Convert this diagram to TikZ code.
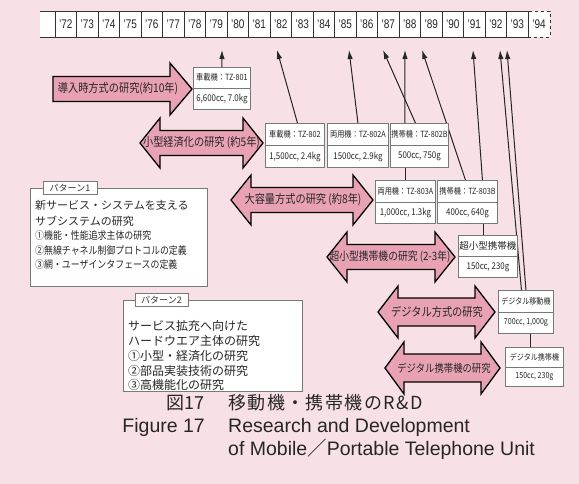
\documentclass[tikz,border=0pt]{standalone}
\usepackage{fontspec}
\usetikzlibrary{arrows.meta,calc}
\newfontfamily\jp{Noto Sans CJK JP}
\newfontfamily\jpc[FakeStretch=0.85]{Noto Sans CJK JP}
\newfontfamily\jpcap[LetterSpace=8]{Noto Sans CJK JP}
\newfontfamily\latc[FakeStretch=0.8]{Liberation Sans}
\newfontfamily\lat{Liberation Sans}
\definecolor{bgpink}{RGB}{247,224,230}
\definecolor{arrowpink}{RGB}{233,162,180}
\definecolor{boxgray}{RGB}{118,122,118}
\newcommand\mbx[7]{%
  \node[mbox,minimum width=#4,minimum height=#5,anchor=north west] (#1) at (#2,#3) {};
  \draw[mline] (#1.west) -- (#1.east);
  \node[mtxt,font=\jpc\fontsize{8.5}{9}\selectfont] (#1-t) at ($(#1.north)!.25!(#1.south)$) {#6};
  \node[mtxt] (#1-b) at ($(#1.north)!.75!(#1.south)$) {#7};}
\newcommand\dblarr[6]{%
  \filldraw[barrow] (#1,#3) -- ({#1+#4},{#3-#5}) -- ({#1+#4},{#3-#6}) -- ({#2-#4},{#3-#6})
   -- ({#2-#4},{#3-#5}) -- (#2,#3) -- ({#2-#4},{#3+#5}) -- ({#2-#4},{#3+#6})
   -- ({#1+#4},{#3+#6}) -- ({#1+#4},{#3+#5}) -- cycle;}
\newcommand\smallt{\fontsize{8.3}{9}\selectfont}
\begin{document}
\begin{tikzpicture}[x=1pt,y=-1pt,
  yrcell/.style={draw=black!80,line width=0.8pt,fill=white,minimum width=21.5,minimum height=26,inner sep=0pt,font=\latc\fontsize{12.5}{13}\selectfont,text=black!85},
  tline/.style={-{Latex[length=9pt,width=5.5pt]},line width=1pt,draw=black!85},
  cline/.style={line width=1pt,draw=black!85},
  mbox/.style={draw=boxgray,line width=0.9pt,fill=white,inner sep=0pt},
  mline/.style={draw=boxgray,line width=0.8pt},
  mtxt/.style={inner sep=0pt,font=\jpc\fontsize{9.3}{10}\selectfont,text=black!85},
  pbox/.style={draw=boxgray,line width=1pt,fill=white,inner sep=0pt},
  plabel/.style={draw=boxgray,line width=0.9pt,fill=white,inner sep=0pt,minimum height=13,font=\jp\fontsize{9}{10}\selectfont,text=black!80},
  ptxtA/.style={anchor=west,inner sep=0pt,font=\jp\fontsize{11}{12}\selectfont,text=black!85},
  ptxtB/.style={anchor=west,inner sep=0pt,font=\jpc\fontsize{10.5}{11}\selectfont,text=black!85},
  ptxtC/.style={anchor=west,inner sep=0pt,font=\jp\fontsize{12}{13}\selectfont,text=black!85},
  barrow/.style={fill=arrowpink,draw=black,line width=1.3pt,line join=miter},
  atxt/.style={inner sep=0pt,font=\jpc\fontsize{12}{13}\selectfont,text=black!85},
  capj/.style={inner sep=0pt,font=\jp\fontsize{18}{20}\selectfont,text=black!85},
  capjs/.style={inner sep=0pt,font=\jpcap\fontsize{18}{20}\selectfont,text=black!85},
  cape/.style={inner sep=0pt,font=\lat\fontsize{19.5}{21}\selectfont,text=black!85}
]
\useasboundingbox (0,0) rectangle (579,484);
\fill[bgpink] (0,0) rectangle (579,484);

% timeline
\fill[white] (40,11) rectangle (55,37);
\draw[black!80,line width=0.8pt] (55,11) -- (40,11) (40,37) -- (55,37);
\node[yrcell,dashed,minimum width=22] (y94) at (539,24) {’94};
\foreach \lab [count=\i from 0] in {72,...,93} {
  \node[yrcell] (y\lab) at ({65.75+21.5*\i},24) {’\lab};
}

% arrow tips under the timeline
\coordinate (t79) at (222,50);
\coordinate (t82) at (277,50);
\coordinate (t85) at (349,50);
\coordinate (t87) at (383,50);
\coordinate (t88) at (405,50);
\coordinate (t89) at (422,50);
\coordinate (t91) at (473,50);
\coordinate (t92) at (500,50);
\coordinate (t93) at (507,50);

% model boxes: first pass defines the node names
\mbx{B801}{193}{67}{57}{42}{車載機：TZ-801}{6,600cc, 7.0kg}
\mbx{B802}{265}{123}{59}{44}{車載機：TZ-802}{1,500cc, 2.4kg}
\mbx{B802A}{327}{123}{61}{44}{両用機：TZ-802A}{1500cc, 2.9kg}
\mbx{B802B}{390}{123}{58}{44}{携帯機：TZ-802B}{500cc, 750g}
\mbx{B803A}{375}{180}{60}{43}{両用機：TZ-803A}{1,000cc, 1.3kg}
\mbx{B803B}{437}{180}{60}{43}{携帯機：TZ-803B}{400cc, 640g}
\mbx{Bsm}{458}{235}{59}{42}{{\jp\fontsize{9.5}{10}\selectfont 超小型携帯機}}{150cc, 230g}
\mbx{Bdm}{498}{290}{55}{43}{{\smallt デジタル移動機}}{{\smallt 700cc, 1,000g}}
\mbx{Bdp}{505}{347}{58}{39}{{\smallt デジタル携帯機}}{{\smallt 150cc, 230g}}

% connectors
\draw[tline] (B801.north) -- (t79);
\draw[tline] ([xshift=2.5pt]B802.north) -- (t82);
\draw[tline] (B802A.north) -- (t85);
\draw[tline] ([xshift=-4pt]B802B.north) -- (t87);
\draw[tline] ([xshift=-14.5pt]B802B.north) -- (t88);
\draw[tline] ([xshift=-2pt]B803B.north) -- (t89);
\draw[tline] ([xshift=15pt]B803B.north) -- (t91);
\draw[tline] ([xshift=-4.5pt]Bdm.north) -- (t92);
\draw[tline] (Bdm.north) -- (t93);
\draw[cline] (B803A.north) -- (B803A.north |- B802B.south);
\draw[cline] ([xshift=-4.5pt]Bsm.north) -- ([xshift=-4.5pt]Bsm.north |- B803B.south);
\draw[cline] ([xshift=4.5pt]Bdm.south) -- ([xshift=4.5pt]Bdm.south |- Bdp.north);

% boxes drawn again over the lines
\mbx{B801}{193}{67}{57}{42}{車載機：TZ-801}{6,600cc, 7.0kg}
\mbx{B802}{265}{123}{59}{44}{車載機：TZ-802}{1,500cc, 2.4kg}
\mbx{B802A}{327}{123}{61}{44}{両用機：TZ-802A}{1500cc, 2.9kg}
\mbx{B802B}{390}{123}{58}{44}{携帯機：TZ-802B}{500cc, 750g}
\mbx{B803A}{375}{180}{60}{43}{両用機：TZ-803A}{1,000cc, 1.3kg}
\mbx{B803B}{437}{180}{60}{43}{携帯機：TZ-803B}{400cc, 640g}
\mbx{Bsm}{458}{235}{59}{42}{{\jp\fontsize{9.5}{10}\selectfont 超小型携帯機}}{150cc, 230g}
\mbx{Bdm}{498}{290}{55}{43}{{\smallt デジタル移動機}}{{\smallt 700cc, 1,000g}}
\mbx{Bdp}{505}{347}{58}{39}{{\smallt デジタル携帯機}}{{\smallt 150cc, 230g}}

% block arrows
\filldraw[barrow] (53,76.5) -- (170,76.5) -- (170,63) -- (192,89) -- (170,115) -- (170,101.5) -- (53,101.5) -- cycle;
\node[atxt] (A1) at (118,89) {導入時方式の研究(約10年)};
\dblarr{140}{263}{143}{20}{25}{12.5}
\node[atxt] (A2) at (201.5,143) {小型経済化の研究 (約5年)};
\dblarr{231}{373}{200}{20}{25}{12.5}
\node[atxt] (A3) at (303,200) {大容量方式の研究 (約8年)};
\dblarr{327}{455}{257}{20}{25}{12.5}
\node[atxt,font=\jpc\fontsize{11.5}{12}\selectfont] (A4) at (390,257) {超小型携帯機の研究 (2-3年)};
\dblarr{378}{495}{312}{20}{26}{14}
\node[atxt] (A5) at (437,312) {デジタル方式の研究};
\dblarr{385}{500}{368}{19}{26}{14}
\node[atxt,font=\jpc\fontsize{11}{12}\selectfont] (A6) at (444,368) {デジタル携帯機の研究};

% pattern 1
\node[pbox,minimum width=177,minimum height=98,anchor=north west] (P1) at (30,188) {};
\node[plabel,minimum width=54] (P1l) at (70,188) {パターン1};
\node[ptxtA] (P1a) at (35,205) {新サービス・システムを支える};
\node[ptxtA] (P1b) at (35,221) {サブシステムの研究};
\node[ptxtB] (P1c) at (35,236) {①機能・性能追求主体の研究};
\node[ptxtB] (P1d) at (35,250.5) {②無線チャネル制御プロトコルの定義};
\node[ptxtB] (P1e) at (35,265) {③網・ユーザインタフェースの定義};

% pattern 2
\node[pbox,minimum width=179,minimum height=91,anchor=north west] (P2) at (123,300) {};
\node[plabel,minimum width=53] (P2l) at (161.5,300) {パターン2};
\node[ptxtC] (P2a) at (128,326) {サービス拡充へ向けた};
\node[ptxtC] (P2b) at (128,341) {ハードウエア主体の研究};
\node[ptxtC] (P2c) at (128,356) {①小型・経済化の研究};
\node[ptxtC] (P2d) at (128,371) {②部品実装技術の研究};
\node[ptxtC] (P2e) at (128,385) {③高機能化の研究};

% caption
\node[capj,anchor=east] (figj) at (205,403) {図17};
\node[capjs,anchor=west] (titj) at (228,403) {移動機・携帯機のR\&D};
\node[cape,anchor=east] (fige) at (205,427) {Figure 17};
\node[cape,anchor=west] (tite1) at (228,427) {Research and Development};
\node[cape,anchor=west] (tite2) at (228,449) {of Mobile{\jp ／}Portable Telephone Unit};
\end{tikzpicture}
\end{document}
